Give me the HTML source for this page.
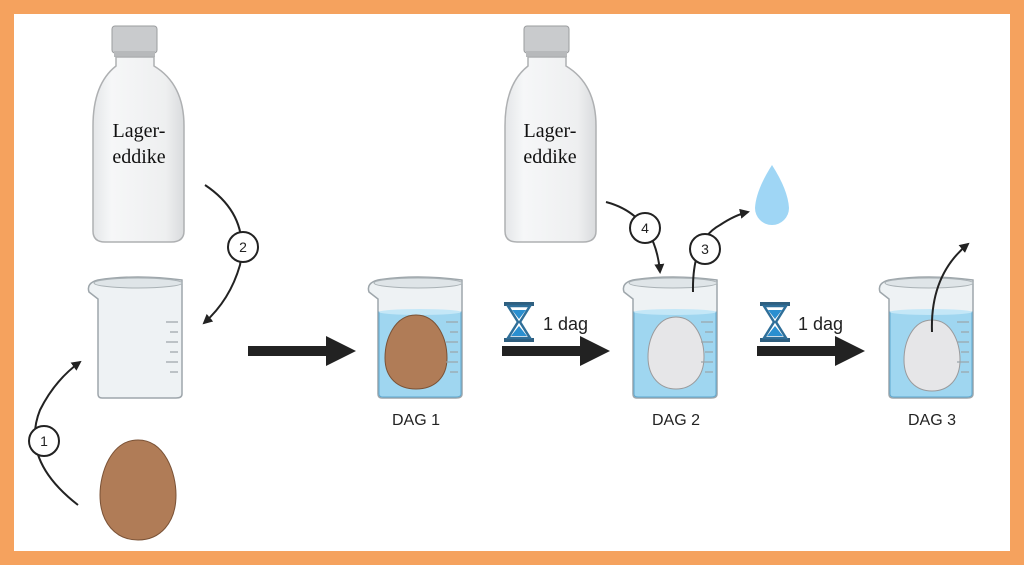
<!DOCTYPE html>
<html><head><meta charset="utf-8"><style>
html,body{margin:0;padding:0;background:#F5A25E}
svg{display:block}
</style></head><body>
<svg width="1024" height="565" viewBox="0 0 1024 565" xmlns="http://www.w3.org/2000/svg">
<defs>
<marker id="ah" markerWidth="10" markerHeight="10" refX="8" refY="5" orient="auto" markerUnits="userSpaceOnUse">
<path d="M0,0 L10,5 L0,10 Z" fill="#222"/></marker>
<linearGradient id="bot" x1="0" x2="1"><stop offset="0" stop-color="#e4e6e8"/><stop offset=".2" stop-color="#f6f7f8"/><stop offset=".8" stop-color="#eeeff0"/><stop offset="1" stop-color="#d9dbdd"/></linearGradient>
<g id="bottle">
<rect x="21" y="0" width="45" height="27" rx="3" fill="#c9cbcd" stroke="#9a9c9e"/>
<rect x="23" y="25" width="41" height="6" fill="#b7b9bb"/>
<path d="M25,31 L25,40 Q2,58 2,100 L2,205 Q2,216 14,216 L80,216 Q93,216 93,205 L93,100 Q93,58 63,40 L63,31 Z" fill="url(#bot)" stroke="#aeb0b2" stroke-width="1.5"/>
</g>
<g id="beaker">
<path d="M3,15 Q0,6 12,3 Q50,-3 96,3 L96,117 Q96,121 90,121 L16,121 Q12,121 12,117 L12,22 Z" fill="#eef2f4" stroke="#9ea6ab" stroke-width="1.5"/>
<ellipse cx="52" cy="6" rx="44" ry="5" fill="#dfe5e8" stroke="#a9b1b5"/>
</g>
<g id="liquid">
<path d="M13,35 L95,35 L95,117 Q95,120 90,120 L17,120 Q13,120 13,117 Z" fill="#9fd6f0" stroke="#5ea8cf"/>
<ellipse cx="54" cy="35" rx="41" ry="3" fill="#c4e7f7"/>
</g>
<g id="marks" stroke="#9aa3a8" stroke-width="1.2">
<line x1="80" y1="45" x2="92" y2="45"/><line x1="84" y1="55" x2="92" y2="55"/><line x1="80" y1="65" x2="92" y2="65"/><line x1="84" y1="75" x2="92" y2="75"/><line x1="80" y1="85" x2="92" y2="85"/><line x1="84" y1="95" x2="92" y2="95"/>
</g>
<g id="hg">
<rect x="0" y="0" width="30" height="4" fill="#2f5f7f"/><rect x="0" y="36" width="30" height="4" fill="#2f5f7f"/>
<path d="M4,4 L26,4 L16,20 L26,36 L4,36 L14,20 Z" fill="#fff" stroke="#2f6f99" stroke-width="2.5"/>
<path d="M8,8 L22,8 L15,17 Z M15,24 L23,34 L7,34 Z" fill="#2a8fd0"/>
</g>
</defs>
<rect x="14" y="14" width="996" height="537" fill="#fff"/>

<use href="#bottle" x="91" y="26"/>
<text x="139" y="137" font-family="Liberation Serif,serif" font-size="20" text-anchor="middle" fill="#111">Lager-</text>
<text x="139" y="163" font-family="Liberation Serif,serif" font-size="20" text-anchor="middle" fill="#111">eddike</text>
<use href="#bottle" x="503" y="26"/>
<text x="550" y="137" font-family="Liberation Serif,serif" font-size="20" text-anchor="middle" fill="#111">Lager-</text>
<text x="550" y="163" font-family="Liberation Serif,serif" font-size="20" text-anchor="middle" fill="#111">eddike</text>

<use href="#beaker" x="86" y="277"/><use href="#marks" x="86" y="277"/>
<use href="#beaker" x="366" y="277"/><use href="#liquid" x="366" y="277"/>
<path d="M416,315 C438,315 447,340 447,358 C447,378 434,389 416,389 C398,389 385,378 385,358 C385,340 394,315 416,315 Z" fill="#b07c57" stroke="#7a5236"/>
<use href="#marks" x="366" y="277"/>
<use href="#beaker" x="621" y="277"/><use href="#liquid" x="621" y="277"/>
<path d="M676,317 C696,317 704,340 704,357 C704,377 692,389 676,389 C660,389 648,377 648,357 C648,340 656,317 676,317 Z" fill="#e6e6e8" stroke="#9a9a9c"/>
<use href="#marks" x="621" y="277"/>
<use href="#beaker" x="877" y="277"/><use href="#liquid" x="877" y="277"/>
<path d="M932,320 C952,320 960,343 960,360 C960,380 948,391 932,391 C916,391 904,380 904,360 C904,343 912,320 932,320 Z" fill="#e6e6e8" stroke="#9a9a9c"/>
<use href="#marks" x="877" y="277"/>

<path d="M138,440 C165,440 176,473 176,495 C176,523 160,540 138,540 C116,540 100,523 100,495 C100,473 111,440 138,440 Z" fill="#b07c57" stroke="#7a5236"/>

<path d="M772,165 Q788,190 789,208 A17,17 0 0 1 755,208 Q756,190 772,165 Z" fill="#9fd6f5"/>

<g fill="#222">
<rect x="248" y="346" width="80" height="10"/><path d="M326,336 L356,351 L326,366 Z"/>
<rect x="502" y="346" width="80" height="10"/><path d="M580,336 L610,351 L580,366 Z"/>
<rect x="757" y="346" width="80" height="10"/><path d="M835,336 L865,351 L835,366 Z"/>
</g>
<use href="#hg" x="504" y="302"/>
<use href="#hg" x="760" y="302"/>
<g font-family="Liberation Sans,sans-serif" font-size="18" fill="#222">
<text x="543" y="330">1 dag</text><text x="798" y="330">1 dag</text>
<text x="416" y="425" text-anchor="middle" font-size="16">DAG 1</text>
<text x="676" y="425" text-anchor="middle" font-size="16">DAG 2</text>
<text x="932" y="425" text-anchor="middle" font-size="16">DAG 3</text>
</g>

<g fill="none" stroke="#222" stroke-width="2">
<path d="M78,505 Q20,460 40,410 Q55,380 80,362" marker-end="url(#ah)"/>
<path d="M205,185 Q250,215 240,265 Q230,300 204,323" marker-end="url(#ah)"/>
<path d="M606,202 Q655,215 660,272" marker-end="url(#ah)"/>
<path d="M693,292 Q692,240 720,225 Q735,215 748,212" marker-end="url(#ah)"/>
<path d="M932,332 Q930,275 968,244" marker-end="url(#ah)"/>
</g>
<g fill="#fff" stroke="#222" stroke-width="2">
<circle cx="44" cy="441" r="15"/><circle cx="243" cy="247" r="15"/>
<circle cx="645" cy="228" r="15"/><circle cx="705" cy="249" r="15"/>
</g>
<g font-family="Liberation Sans,sans-serif" font-size="14" fill="#222" text-anchor="middle">
<text x="44" y="446">1</text><text x="243" y="252">2</text>
<text x="645" y="233">4</text><text x="705" y="254">3</text>
</g>
</svg>
</body></html>
